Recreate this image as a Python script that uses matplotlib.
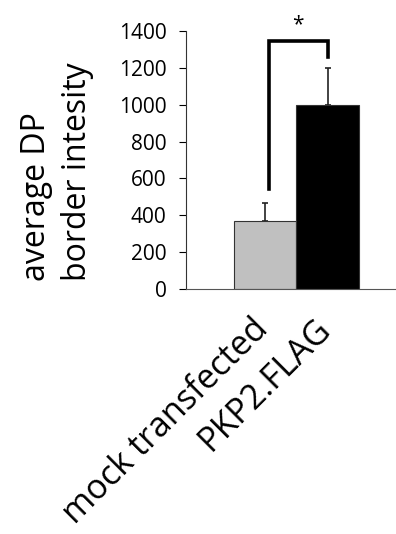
import matplotlib
matplotlib.use("agg")
import matplotlib.pyplot as plt
from matplotlib.transforms import ScaledTranslation

# data
groups = ["mock transfected", "PKP2.FLAG"]
means = [370, 1000]
errors = [95, 200]
colors = ["#c0c0c0", "#000000"]
yticks = [0, 200, 400, 600, 800, 1000, 1200, 1400]
bracket = [540, 1345, 1260]  # left leg bottom, top, right leg bottom

plt.rcParams["font.family"] = ["Open Sans", "DejaVu Sans"]

fig = plt.figure(figsize=(3.96, 5.34), dpi=100)
ax = fig.add_axes([186 / 396, 1 - 289 / 534, 1 - 186 / 396, 258 / 534])

x = [0, 1]
ax.bar(x, means, width=1.0, color=colors, edgecolor="#333333", linewidth=0.8, zorder=2)
ax.errorbar(x, means, yerr=[[0, 0], errors], fmt="none", ecolor="#222222",
            elinewidth=1.2, capsize=2.5, capthick=1.2, zorder=1)

# significance bracket
bx0, bx1 = x[0] + 0.06, x[1]
ax.plot([bx0, bx0, bx1, bx1], [bracket[0], bracket[1], bracket[1], bracket[2]],
        color="black", lw=2.6, solid_joinstyle="miter", clip_on=False)
ax.text((bx0 + bx1) / 2, bracket[1] + 30, "*", ha="center", va="bottom",
        fontsize=15, clip_on=False)

ax.set_xlim(-1.26, 2.09)
ax.set_ylim(0, 1400)
ax.set_yticks(yticks)
ax.tick_params(axis="y", labelsize=15, length=5, width=0.8, pad=9)
ax.set_xticks(x)
ax.set_xticklabels(groups, rotation=45, ha="right", va="top",
                   rotation_mode="anchor", fontsize=24.5)
ax.tick_params(axis="x", length=0, pad=14)
shift = ScaledTranslation(-0.14, -0.04, fig.dpi_scale_trans)
for lbl in ax.get_xticklabels():
    lbl.set_transform(lbl.get_transform() + shift)

for s in ["top", "right"]:
    ax.spines[s].set_visible(False)
ax.spines["left"].set_color("#333333")
ax.spines["bottom"].set_color("#555555")
ax.spines["left"].set_linewidth(0.8)
ax.spines["bottom"].set_linewidth(0.8)

# y label: two left-aligned lines
fig.text(57 / 396, 1 - 172 / 534, "average DP\nborder intesity", rotation=90,
         ha="center", va="center", multialignment="left", fontsize=23, linespacing=1.3)

fig.savefig("out.png", dpi=100)
